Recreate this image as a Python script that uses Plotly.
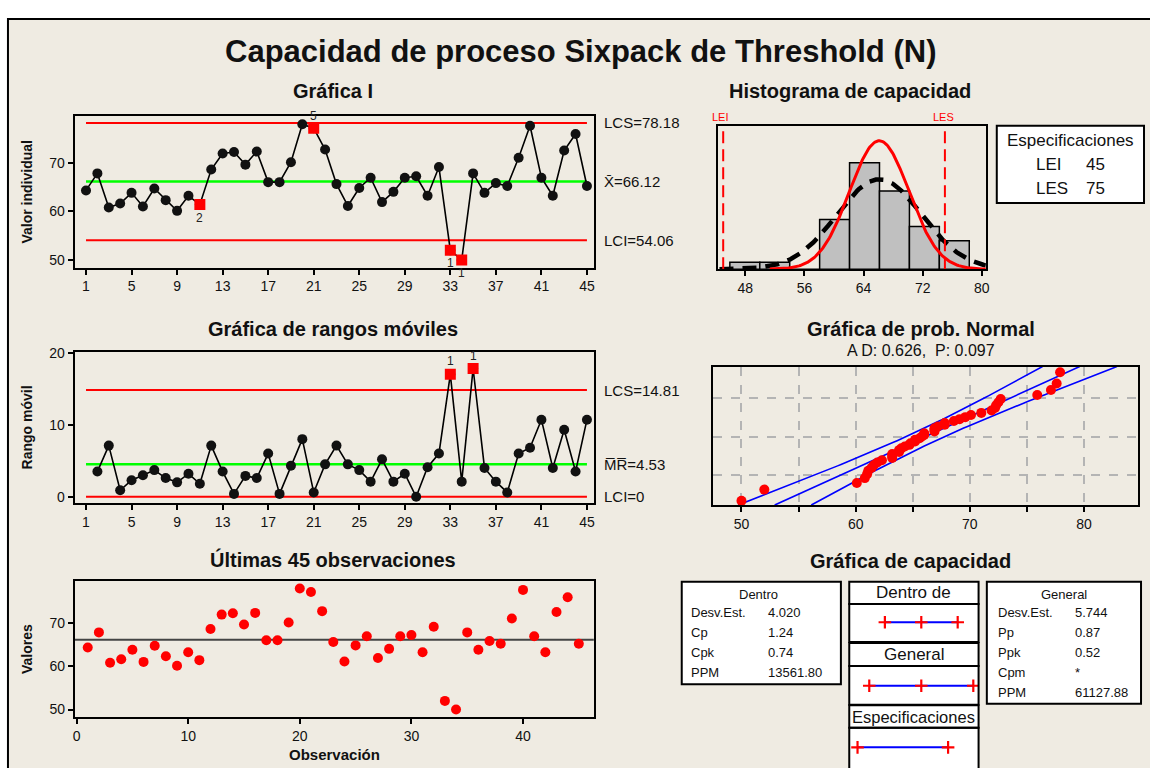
import plotly.graph_objects as go
from statistics import NormalDist

# ---------------- data ----------------
observations = list(range(1, 46))
values = [64.3, 67.8, 60.8, 61.6, 63.8, 61.0, 64.7, 62.3, 60.1, 63.2,
          61.4, 68.6, 71.9, 72.2, 69.6, 72.3, 66.0, 66.0, 70.1, 77.9,
          77.1, 72.7, 65.6, 61.1, 64.8, 66.9, 61.9, 64.0, 66.9, 67.2,
          63.2, 69.1, 52.0, 50.0, 67.8, 63.8, 65.8, 65.2, 71.0, 77.6,
          66.9, 63.2, 72.5, 75.9, 65.2]
mr_obs = list(range(2, 46))
mr_values = [3.5, 7.1, 0.9, 2.3, 3.0, 3.7, 2.6, 2.0, 3.2, 1.8,
             7.1, 3.5, 0.4, 2.9, 2.6, 6.0, 0.4, 4.3, 8.0, 0.6,
             4.5, 7.1, 4.5, 3.7, 2.1, 5.2, 2.1, 3.2, 0.0, 4.1,
             6.0, 17.0, 2.1, 17.8, 4.0, 2.1, 0.6, 6.0, 6.8, 10.7,
             4.0, 9.3, 3.5, 10.7]
i_flag_obs = [11, 21, 33, 34]
i_flag_labels = ["2", "5", "1", "1"]
mr_flag_obs = [33, 35]
mr_flag_labels = ["1", "1"]

lcs_i, xbar, lci_i = 78.18, 66.12, 54.06
lcs_mr, mr_bar, lci_mr = 14.81, 4.53, 0.0

hist_edges = [45.9, 49.95, 54.0, 58.05, 62.1, 66.15, 70.2, 74.25, 78.3]
hist_counts = [1, 1, 0, 7, 15, 11, 6, 4]

lei, les = 45, 75
sd_within, sd_overall = 4.020, 5.744
n_obs = 45

within_interval = [54.06, 66.12, 78.18]
overall_interval = [48.89, 66.12, 83.35]
spec_interval = [45, 75]

within_rows = [("Desv.Est.", "4.020"), ("Cp", "1.24"), ("Cpk", "0.74"), ("PPM", "13561.80")]
overall_rows = [("Desv.Est.", "5.744"), ("Pp", "0.87"), ("Ppk", "0.52"), ("Cpm", "*"), ("PPM", "61127.88")]

i_ticks = list(range(1, 46, 4))
x45_ticks = [0, 10, 20, 30, 40]
hist_ticks = [48, 56, 64, 72, 80]
prob_ticks = [50, 55, 60, 65, 70, 75, 80]
prob_ticktext = ["50", "", "60", "", "70", "", "80"]

# ---------------- helpers ----------------
W, H = 1150, 768
FONT = "Liberation Sans, Arial, sans-serif"
BG = "#EFEBE2"


def px(x):
    return x / W


def py(y):
    return 1 - y / H


nd = NormalDist()
fig = go.Figure()
annotations = []
shapes = []


def ann(text, x, y, size=14, bold=False, xanchor="center", yanchor="middle",
        color="#111111", angle=0, xref="paper", yref="paper", yshift=0):
    if bold:
        text = "<b>" + text + "</b>"
    annotations.append(dict(
        text=text, x=(px(x) if xref == "paper" else x),
        y=(py(y) if yref == "paper" else y), xref=xref, yref=yref,
        xanchor=xanchor, yanchor=yanchor, showarrow=False, textangle=angle,
        font=dict(family=FONT, size=size, color=color), yshift=yshift))


def rect(x0, y0, x1, y1, fill="rgba(0,0,0,0)", width=2, layer="above"):
    shapes.append(dict(type="rect", xref="paper", yref="paper",
                       x0=px(x0), x1=px(x1), y0=py(y0), y1=py(y1),
                       line=dict(color="black", width=width), fillcolor=fill, layer=layer))


def axis_style(domain, rng, **kw):
    d = dict(domain=domain, range=rng, showline=True, linecolor="black", linewidth=2,
             mirror=True, ticks="outside", ticklen=5, tickwidth=1.5, tickcolor="black",
             showgrid=False, zeroline=False,
             tickfont=dict(family=FONT, size=14, color="#111111"))
    d.update(kw)
    return d


# background frame
rect(6, 12, 1160, 780, fill=BG, width=2, layer="below")

# ---------------- I chart ----------------
x0_i, x1_i = 0.0, 45.61
fig.add_trace(go.Scatter(x=[1, 45], y=[lcs_i, lcs_i], mode="lines", line=dict(color="#FF0000", width=2), xaxis="x", yaxis="y"))
fig.add_trace(go.Scatter(x=[1, 45], y=[lci_i, lci_i], mode="lines", line=dict(color="#FF0000", width=2), xaxis="x", yaxis="y"))
fig.add_trace(go.Scatter(x=[1, 45], y=[xbar, xbar], mode="lines", line=dict(color="#00FF00", width=2.5), xaxis="x", yaxis="y"))
fig.add_trace(go.Scatter(x=observations, y=values, mode="lines+markers",
                         line=dict(color="black", width=1.6),
                         marker=dict(color="#111111", size=10, symbol="circle"),
                         xaxis="x", yaxis="y"))
fig.add_trace(go.Scatter(x=i_flag_obs, y=[values[o - 1] for o in i_flag_obs], mode="markers",
                         marker=dict(color="#FF0000", size=11, symbol="square"), xaxis="x", yaxis="y"))
for o, lab in zip(i_flag_obs, i_flag_labels):
    above = lab == "5"
    ann(lab, o, values[o - 1], size=12, xref="x", yref="y",
        yshift=(12 if above else -13), color="#222222")

# ---------------- MR chart ----------------
fig.add_trace(go.Scatter(x=[1, 45], y=[lcs_mr, lcs_mr], mode="lines", line=dict(color="#FF0000", width=2), xaxis="x2", yaxis="y2"))
fig.add_trace(go.Scatter(x=[1, 45], y=[lci_mr, lci_mr], mode="lines", line=dict(color="#FF0000", width=2), xaxis="x2", yaxis="y2"))
fig.add_trace(go.Scatter(x=[1, 45], y=[mr_bar, mr_bar], mode="lines", line=dict(color="#00FF00", width=2.5), xaxis="x2", yaxis="y2"))
fig.add_trace(go.Scatter(x=mr_obs, y=mr_values, mode="lines+markers",
                         line=dict(color="black", width=1.6),
                         marker=dict(color="#111111", size=10, symbol="circle"),
                         xaxis="x2", yaxis="y2"))
fig.add_trace(go.Scatter(x=mr_flag_obs, y=[mr_values[o - 2] for o in mr_flag_obs], mode="markers",
                         marker=dict(color="#FF0000", size=11, symbol="square"), xaxis="x2", yaxis="y2"))
for o, lab in zip(mr_flag_obs, mr_flag_labels):
    ann(lab, o, mr_values[o - 2], size=12, xref="x2", yref="y2", yshift=13, color="#222222")

# ---------------- last 45 observations ----------------
fig.add_trace(go.Scatter(x=[-0.15, 46.35], y=[xbar, xbar], mode="lines", line=dict(color="#444444", width=2), xaxis="x3", yaxis="y3"))
fig.add_trace(go.Scatter(x=observations, y=values, mode="markers",
                         marker=dict(color="#FF0000", size=10, symbol="circle"), xaxis="x3", yaxis="y3"))

# ---------------- histogram ----------------
centers = [(a + b) / 2 for a, b in zip(hist_edges[:-1], hist_edges[1:])]
widths = [b - a for a, b in zip(hist_edges[:-1], hist_edges[1:])]
fig.add_trace(go.Bar(x=centers, y=hist_counts, width=widths,
                     marker=dict(color="#C0C0C0", line=dict(color="black", width=1.5)),
                     xaxis="x4", yaxis="y4"))
bw = widths[0]


def curve(mu, sd, lo, hi, npts=200):
    dist = NormalDist(mu, sd)
    xs = [lo + (hi - lo) * k / (npts - 1) for k in range(npts)]
    ys = [n_obs * bw * dist.pdf(x) for x in xs]
    return xs, ys


xs_o, ys_o = curve(xbar, sd_overall, 44.5, 80.54)
fig.add_trace(go.Scatter(x=xs_o, y=ys_o, mode="lines", line=dict(color="black", width=4.5, dash="14px,9px"),
                         xaxis="x4", yaxis="y4"))
xs_w, ys_w = curve(xbar, sd_within, 51.3, 80.54)
fig.add_trace(go.Scatter(x=xs_w, y=ys_w, mode="lines", line=dict(color="#FF0000", width=3),
                         xaxis="x4", yaxis="y4"))
for s in (lei, les):
    fig.add_trace(go.Scatter(x=[s, s], y=[0, 20.2], mode="lines",
                             line=dict(color="#FF0000", width=2, dash="12px,6px"), xaxis="x4", yaxis="y4"))

# ---------------- normal probability plot ----------------
sorted_vals = sorted(values)
z_pos = [nd.inv_cdf((i + 1 - 0.3) / (n_obs + 0.4)) for i in range(n_obs)]
z_line = [-2.30 + 4.65 * k / 99 for k in range(100)]
se = sd_overall / n_obs ** 0.5
center_x = [xbar + sd_overall * z for z in z_line]
lower_x = [xbar + sd_overall * z - 1.96 * se * (1 + z * z / 2) ** 0.5 for z in z_line]
upper_x = [xbar + sd_overall * z + 1.96 * se * (1 + z * z / 2) ** 0.5 for z in z_line]
for xs in (lower_x, center_x, upper_x):
    fig.add_trace(go.Scatter(x=xs, y=z_line, mode="lines", line=dict(color="#0000FF", width=1.6),
                             xaxis="x5", yaxis="y5"))
fig.add_trace(go.Scatter(x=sorted_vals, y=z_pos, mode="markers",
                         marker=dict(color="#FF0000", size=10), xaxis="x5", yaxis="y5"))

# ---------------- capability plot ----------------
cap_defs = [("x6", "y6", within_interval, 0.52), ("x7", "y7", overall_interval, 0.49), ("x8", "y8", spec_interval, 0.5)]
for xa, ya, iv, yl in cap_defs:
    fig.add_trace(go.Scatter(x=[iv[0], iv[-1]], y=[yl, yl], mode="lines", line=dict(color="#0000FF", width=2),
                             xaxis=xa, yaxis=ya))
    fig.add_trace(go.Scatter(x=iv, y=[yl] * len(iv), mode="markers",
                             marker=dict(symbol="cross-thin", size=9, line=dict(color="#FF0000", width=2.2)),
                             xaxis=xa, yaxis=ya))

# ---------------- layout ----------------
hidden = dict(showline=False, showticklabels=False, ticks="", showgrid=False, zeroline=False)
layout = dict(
    width=W, height=H, margin=dict(l=0, r=0, t=0, b=0),
    paper_bgcolor="white", plot_bgcolor="white", showlegend=False,
    xaxis=axis_style([px(73), px(595)], [x0_i, x1_i], anchor="y", tickvals=i_ticks),
    yaxis=axis_style([py(263.3), py(110)], [48.44, 79.63], anchor="x", tickvals=[50, 60, 70]),
    xaxis2=axis_style([px(73), px(595)], [x0_i, x1_i], anchor="y2", tickvals=i_ticks),
    yaxis2=axis_style([py(501.7), py(348.3)], [-0.93, 20.14], anchor="x2", tickvals=[0, 10, 20]),
    xaxis3=axis_style([px(73.3), px(595)], [-0.15, 46.35], anchor="y3", tickvals=x45_ticks),
    yaxis3=axis_style([py(717.3), py(580)], [48.33, 79.66], anchor="x3", tickvals=[50, 60, 70]),
    xaxis4=axis_style([px(720), px(989)], [44.33, 80.54], anchor="y4", tickvals=hist_ticks),
    yaxis4=axis_style([py(265), py(120)], [0, 20.2], anchor="x4", ticks="", showticklabels=False),
    xaxis5=axis_style([px(715), px(1141.7)], [47.53, 84.7], anchor="y5", tickvals=prob_ticks,
                      ticktext=prob_ticktext, showgrid=True, gridcolor="#B4B4B4", gridwidth=1.5, griddash="dash"),
    yaxis5=axis_style([py(503.3), py(363.3)], [-2.30, 2.35], anchor="x5", ticks="", showticklabels=False,
                      tickvals=[-1.2816, 0, 1.2816], showgrid=True, gridcolor="#B4B4B4", gridwidth=1.5,
                      griddash="dash"),
    xaxis6=dict(domain=[px(851.7), px(981.7)], range=[42.26, 85.1], anchor="y6", **hidden),
    yaxis6=dict(domain=[py(641.7), py(603.3)], range=[0, 1], anchor="x6", **hidden),
    xaxis7=dict(domain=[px(851.7), px(981.7)], range=[42.26, 85.1], anchor="y7", **hidden),
    yaxis7=dict(domain=[py(705), py(666)], range=[0, 1], anchor="x7", **hidden),
    xaxis8=dict(domain=[px(851.7), px(981.7)], range=[42.26, 85.1], anchor="y8", **hidden),
    yaxis8=dict(domain=[py(768), py(728.3)], range=[0, 1], anchor="x8", **hidden),
)

# titles
ann("Capacidad de proceso Sixpack de Threshold (N)", 582, 45, size=31, bold=True)
ann("Gráfica I", 333, 85, size=20, bold=True)
ann("Gráfica de rangos móviles", 333, 325, size=20, bold=True)
ann("Últimas 45 observaciones", 333, 558, size=20, bold=True)
ann("Histograma de capacidad", 852, 85, size=20, bold=True)
ann("Gráfica de prob. Normal", 924, 325, size=20, bold=True)
ann("A D: 0.626,  P: 0.097", 924, 347, size=16)
ann("Gráfica de capacidad", 913, 560, size=20, bold=True)

# axis titles
ann("Valor individual", 25, 186.6, size=14, bold=True, angle=-90)
ann("Rango móvil", 25, 425, size=14, bold=True, angle=-90)
ann("Valores", 25, 649, size=14, bold=True, angle=-90)
ann("Observación", 334, 755, size=15, bold=True)

# control-limit labels
ann("LCS=78.18", 603, lcs_i, size=15, xanchor="left", xref="paper", yref="y")
ann("X\u0304=66.12", 603, xbar, size=15, xanchor="left", xref="paper", yref="y")
ann("LCI=54.06", 603, lci_i, size=15, xanchor="left", xref="paper", yref="y")
ann("LCS=14.81", 603, lcs_mr, size=15, xanchor="left", xref="paper", yref="y2")
ann("M\u0305R\u0305=4.53", 603, mr_bar, size=15, xanchor="left", xref="paper", yref="y2")
ann("LCI=0", 603, lci_mr, size=15, xanchor="left", xref="paper", yref="y2")

# spec labels above histogram
ann("LEI", 722, 111, size=11, color="#FF0000")
ann("LES", 946, 111, size=11, color="#FF0000")

# spec legend box
rect(1000, 120, 1148, 198, fill="white")
ann("Especificaciones", 1074, 135, size=17)
ann("LEI", 1037, 159, size=17, xanchor="left")
ann("45", 1088, 159, size=17, xanchor="left")
ann("LES", 1037, 183, size=17, xanchor="left")
ann("75", 1088, 183, size=17, xanchor="left")

# capability boxes
rect(683.3, 580.7, 843.3, 684.3, fill="white")
ann("Dentro", 760, 594, size=13)
for k, (lab, val) in enumerate(within_rows):
    yy = 612 + k * 20.2
    ann(lab, 690.7, yy, size=13, xanchor="left")
    ann(val, 768.3, yy, size=13, xanchor="left")

rect(990, 580.7, 1145, 704, fill="white")
ann("General", 1067.7, 594, size=13)
for k, (lab, val) in enumerate(overall_rows):
    yy = 612 + k * 20.1
    ann(lab, 999, yy, size=13, xanchor="left")
    ann(val, 1076.7, yy, size=13, xanchor="left")

rect(851.7, 580.7, 981.7, 603.3, fill="white")
rect(851.7, 603.3, 981.7, 641.7, fill="rgba(0,0,0,0)")
rect(851.7, 642.7, 981.7, 666, fill="white")
rect(851.7, 666, 981.7, 705, fill="rgba(0,0,0,0)")
rect(851.7, 705.7, 981.7, 728.3, fill="white")
rect(851.7, 728.3, 981.7, 790, fill="rgba(0,0,0,0)")
for (a, b) in [(603.3, 641.7), (666, 705), (728.3, 790)]:
    shapes.append(dict(type="rect", xref="paper", yref="paper", x0=px(851.7), x1=px(981.7),
                       y0=py(b), y1=py(a), line=dict(width=0), fillcolor="white", layer="below"))
ann("Dentro de", 916.7, 592, size=17)
ann("General", 916.7, 654.5, size=17)
ann("Especificaciones", 916.7, 717, size=16.5)

layout["annotations"] = annotations
layout["shapes"] = shapes
fig.update_layout(**layout)
fig.write_html("out.html", config={"displayModeBar": False},
               post_script="document.body.style.margin='0px';document.body.style.overflow='hidden';")
